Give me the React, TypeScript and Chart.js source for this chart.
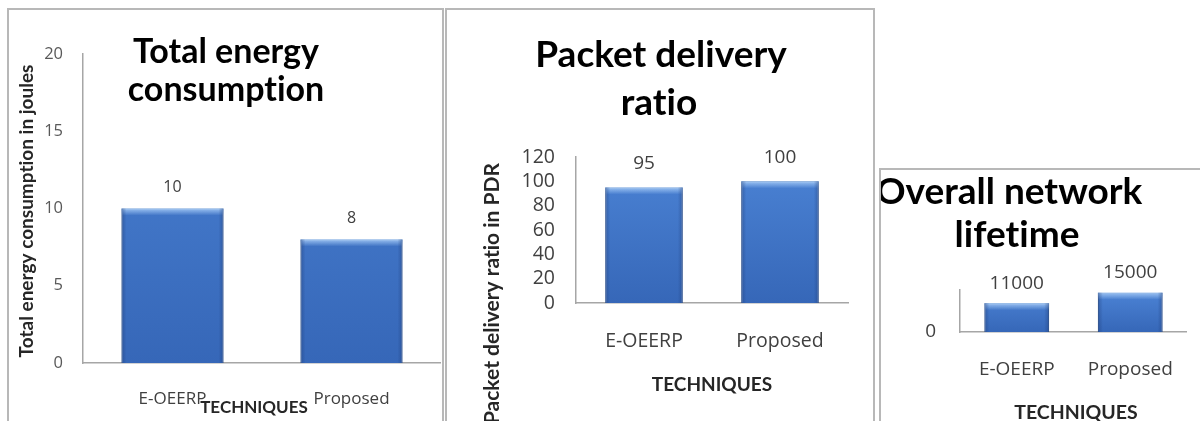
import React, { useEffect, useRef } from "react";
import { Chart, registerables } from "chart.js";

Chart.register(...registerables);

// ---- data ----
const categories = ["E-OEERP", "Proposed"];
const energyValues = [10, 8];
const energyTicks = [0, 5, 10, 15, 20];
const pdrValues = [95, 100];
const pdrTicks = [0, 20, 40, 60, 80, 100, 120];
const lifetimeValues = [11000, 15000];
const lifetimeTicks = [0];
const lifetimeMax = 16000;

const energyTitle = ["Total energy", "consumption"];
const pdrTitle = ["Packet delivery", "ratio"];
const lifetimeTitle = ["Overall network", "lifetime"];
const xAxisTitle = "TECHNIQUES";
const energyYTitle = "Total energy consumption in joules";
const pdrYTitle = "Packet delivery ratio in PDR";

const FONT = "'Open Sans'";
const BOLD = "Lato";

type TextItem = {
  text: string;
  x: number;
  y: number;
  font: string;
  color: string;
  rotate?: boolean;
  align?: CanvasTextAlign;
};

const overlayPlugin = {
  id: "overlay",
  afterDatasetsDraw(chart: any, _args: any, opts: any) {
    const ctx: any = chart.ctx;
    const meta = chart.getDatasetMeta(0);
    const data = chart.data.datasets[0].data as number[];
    ctx.save();
    // bevel shading on bars
    meta.data.forEach((bar: any) => {
      const { x, y, base, width } = bar.getProps(["x", "y", "base", "width"], true);
      const l = x - width / 2;
      const h = base - y;
      const bev = Math.min(7, h / 3);
      const gt = ctx.createLinearGradient(0, y, 0, y + bev);
      gt.addColorStop(0, "rgba(160,198,244,0.95)");
      gt.addColorStop(1, "rgba(160,198,244,0)");
      ctx.fillStyle = gt;
      ctx.fillRect(l, y, width, bev);
      const gl = ctx.createLinearGradient(l, 0, l + 5, 0);
      gl.addColorStop(0, "rgba(30,60,120,0.45)");
      gl.addColorStop(1, "rgba(30,60,120,0)");
      ctx.fillStyle = gl;
      ctx.fillRect(l, y, 5, h);
      const r = x + width / 2;
      const gr = ctx.createLinearGradient(r - 5, 0, r, 0);
      gr.addColorStop(0, "rgba(30,60,120,0)");
      gr.addColorStop(1, "rgba(30,60,120,0.45)");
      ctx.fillStyle = gr;
      ctx.fillRect(r - 5, y, 5, h);
    });
    // data labels
    ctx.font = opts.labelFont;
    ctx.fillStyle = opts.labelColor;
    ctx.textAlign = "center";
    ctx.textBaseline = "middle";
    meta.data.forEach((bar: any, i: number) => {
      ctx.fillText(String(data[i]), bar.x, bar.y - opts.labelOffset);
    });
    // free texts (titles)
    (opts.texts as TextItem[]).forEach((t) => {
      ctx.save();
      ctx.textRendering = "optimizeSpeed";
      ctx.font = t.font;
      ctx.fillStyle = t.color;
      ctx.textBaseline = "middle";
      ctx.textAlign = t.align || "center";
      ctx.translate(t.x, t.y);
      if (t.rotate) ctx.rotate(-Math.PI / 2);
      ctx.fillText(t.text, 0, 0);
      ctx.restore();
    });
    ctx.restore();
  },
};

type Spec = {
  left: number;
  top: number;
  width: number;
  height: number;
  values: number[];
  ticks: number[];
  max: number;
  pad: { top: number; right: number; bottom: number; left: number };
  yWidth: number;
  xHeight: number;
  yTickPad: number;
  xTickPad: number;
  tickSize: number;
  tickColor: string;
  catSize: number;
  labelSize: number;
  labelOffset: number;
  texts: TextItem[];
};

function barFill(ctx: any) {
  const chart = ctx.chart;
  const area = chart.chartArea;
  if (!area) return "#3f75c8";
  const g = chart.ctx.createLinearGradient(0, area.top, 0, area.bottom);
  g.addColorStop(0, "#4c84d6");
  g.addColorStop(1, "#3667b8");
  return g;
}

function BarPanel({ spec }: { spec: Spec }) {
  const ref = useRef<HTMLCanvasElement | null>(null);
  useEffect(() => {
    if (!ref.current) return;
    const chart = new Chart(ref.current, {
      type: "bar",
      data: {
        labels: categories,
        datasets: [
          {
            data: spec.values,
            backgroundColor: barFill,
            borderColor: "#2d5796",
            borderWidth: 1,
            categoryPercentage: 1,
            barPercentage: 0.57,
          },
        ],
      },
      options: {
        responsive: false,
        animation: false,
        devicePixelRatio: 1,
        layout: { padding: spec.pad },
        plugins: {
          legend: { display: false },
          tooltip: { enabled: false },
          title: { display: false },
          overlay: {
            labelFont: `${spec.labelSize}px ${FONT}`,
            labelColor: "#404040",
            labelOffset: spec.labelOffset,
            texts: spec.texts,
          },
        } as any,
        scales: {
          x: {
            grid: { display: false, drawTicks: false },
            border: { display: true, color: "#a6a6a6", width: 1.5 },
            ticks: {
              padding: spec.xTickPad,
              color: "#404040",
              font: { family: FONT, size: spec.catSize },
              maxRotation: 0,
              autoSkip: false,
            },
            afterFit: (s: any) => {
              s.height = spec.xHeight;
            },
          },
          y: {
            min: 0,
            max: spec.max,
            grid: { display: false, drawTicks: false },
            border: { display: true, color: "#a6a6a6", width: 1.5 },
            ticks: {
              padding: spec.yTickPad,
              color: spec.tickColor,
              font: { family: FONT, size: spec.tickSize },
              autoSkip: false,
            },
            afterBuildTicks: (s: any) => {
              s.ticks = spec.ticks.map((v) => ({ value: v }));
            },
            afterFit: (s: any) => {
              s.width = spec.yWidth;
            },
          },
        },
      },
      plugins: [overlayPlugin],
    });
    return () => chart.destroy();
  }, [spec]);
  return (
    <canvas
      ref={ref}
      width={spec.width}
      height={spec.height}
      style={{
        position: "absolute",
        left: spec.left,
        top: spec.top,
        width: spec.width,
        height: spec.height,
      }}
    />
  );
}

const energySpec: Spec = {
  left: 10,
  top: 11,
  width: 431,
  height: 420,
  values: energyValues,
  ticks: energyTicks,
  max: 20,
  pad: { top: 43, right: 0, bottom: 0, left: 0 },
  yWidth: 73,
  xHeight: 68,
  yTickPad: 20,
  xTickPad: 26,
  tickSize: 16.5,
  tickColor: "#595959",
  catSize: 17,
  labelSize: 16,
  labelOffset: 21,
  texts: [
    { text: energyTitle[0], x: 216, y: 41, font: `bold 34px ${BOLD}`, color: "#000" },
    { text: energyTitle[1], x: 216, y: 79, font: `bold 34px ${BOLD}`, color: "#000" },
    { text: energyYTitle, x: 17, y: 200, font: `bold 19px ${BOLD}`, color: "#262626", rotate: true },
    { text: xAxisTitle, x: 244, y: 397, font: `bold 17px ${BOLD}`, color: "#262626" },
  ],
};

const pdrSpec: Spec = {
  left: 448,
  top: 10,
  width: 424,
  height: 430,
  values: pdrValues,
  ticks: pdrTicks,
  max: 120,
  pad: { top: 147, right: 24, bottom: 0, left: 0 },
  yWidth: 128,
  xHeight: 137,
  yTickPad: 21,
  xTickPad: 27,
  tickSize: 19.5,
  tickColor: "#404040",
  catSize: 19.5,
  labelSize: 19,
  labelOffset: 24,
  texts: [
    { text: pdrTitle[0], x: 213, y: 45, font: `bold 37px ${BOLD}`, color: "#000" },
    { text: pdrTitle[1], x: 211, y: 93, font: `bold 37px ${BOLD}`, color: "#000" },
    { text: pdrYTitle, x: 44, y: 153, font: `bold 21px ${BOLD}`, color: "#262626", rotate: true, align: "right" },
    { text: xAxisTitle, x: 264, y: 375, font: `bold 19px ${BOLD}`, color: "#262626" },
  ],
};

const lifetimeSpec: Spec = {
  left: 881,
  top: 170,
  width: 318,
  height: 260,
  values: lifetimeValues,
  ticks: lifetimeTicks,
  max: lifetimeMax,
  pad: { top: 120, right: 1, bottom: 0, left: 0 },
  yWidth: 79,
  xHeight: 98,
  yTickPad: 24,
  xTickPad: 26,
  tickSize: 19,
  tickColor: "#404040",
  catSize: 19,
  labelSize: 19,
  labelOffset: 20,
  texts: [
    { text: lifetimeTitle[0], x: 128, y: 22, font: `bold 37px ${BOLD}`, color: "#000" },
    { text: lifetimeTitle[1], x: 136, y: 65, font: `bold 37px ${BOLD}`, color: "#000" },
    { text: xAxisTitle, x: 195, y: 243, font: `bold 19.5px ${BOLD}`, color: "#262626" },
  ],
};

const border = "2px solid #b8b8b8";

export default function App() {
  return (
    <div
      style={{
        position: "absolute",
        left: 0,
        top: 0,
        width: 1200,
        height: 421,
        overflow: "hidden",
        background: "#fff",
      }}
    >
      <div style={{ position: "absolute", left: 7, top: 8, width: 437, height: 440, border, boxSizing: "border-box" }} />
      <div style={{ position: "absolute", left: 445, top: 8, width: 430, height: 440, border, boxSizing: "border-box" }} />
      <div style={{ position: "absolute", left: 879, top: 168, width: 330, height: 300, border, boxSizing: "border-box" }} />
      <BarPanel spec={energySpec} />
      <BarPanel spec={pdrSpec} />
      <BarPanel spec={lifetimeSpec} />
    </div>
  );
}
